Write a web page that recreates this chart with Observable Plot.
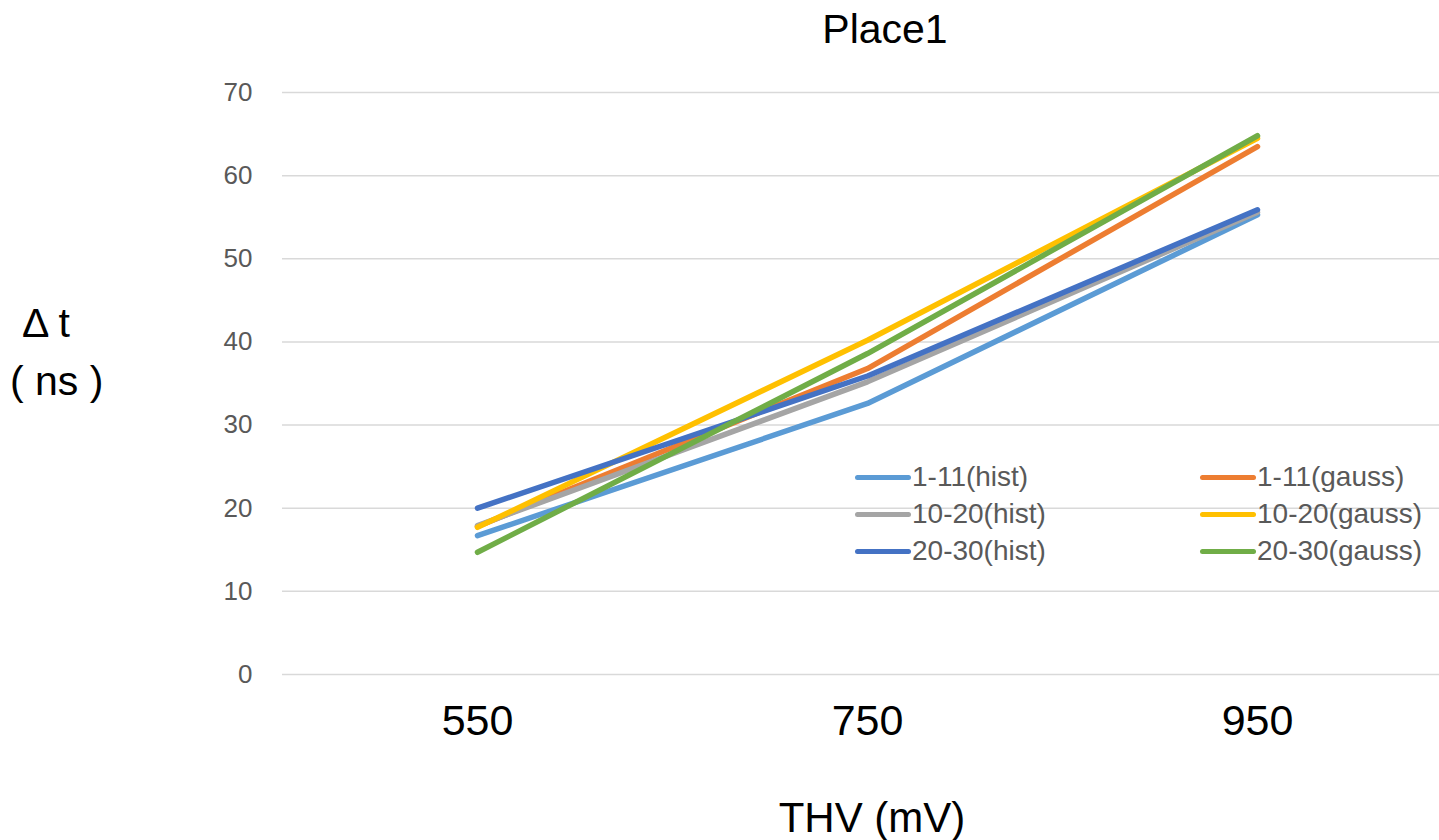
<!DOCTYPE html>
<html>
<head>
<meta charset="utf-8">
<script src="https://cdn.jsdelivr.net/npm/d3@7"></script>
<script src="https://cdn.jsdelivr.net/npm/@observablehq/plot@0.6"></script>
<style>
  html, body { margin: 0; padding: 0; background: #fff; }
  #wrap { position: relative; width: 1439px; height: 840px; overflow: hidden; font-family: "Liberation Sans", Arial, sans-serif; }
  .lbl { position: absolute; color: #000; white-space: nowrap; }
  #legend { position: absolute; left: 855px; top: 459px; width: 580px; display: grid; grid-template-columns: 345px 235px; row-gap: 1px; }
  .item { display: flex; align-items: center; font-size: 28px; color: #595959; height: 36px; }
  .sw { width: 56px; height: 5px; border-radius: 3px; margin-right: 1px; }
</style>
</head>
<body>
<div id="wrap">
  <div id="chart"></div>
  <div class="lbl" style="left:0;width:1770px;top:6px;text-align:center;font-size:41px;">Place1</div>
  <div class="lbl" style="left:22px;top:300px;font-size:41px;">Δ t</div>
  <div class="lbl" style="left:10px;top:358px;font-size:41px;">( ns )</div>
  <div class="lbl" style="left:0;width:1744px;top:794px;text-align:center;font-size:42px;">THV (mV)</div>
  <div id="legend"></div>
</div>
<script>
const categories = ["550", "750", "950"];
const seriesNames = ["1-11(hist)", "1-11(gauss)", "10-20(hist)", "10-20(gauss)", "20-30(hist)", "20-30(gauss)"];
const seriesColors = ["#5B9BD5", "#ED7D31", "#A5A5A5", "#FFC000", "#4472C4", "#70AD47"];
const hist_1_11   = [16.7, 32.6, 55.3];
const gauss_1_11  = [17.8, 36.8, 63.5];
const hist_10_20  = [17.9, 35.2, 55.6];
const gauss_10_20 = [17.7, 40.2, 64.5];
const hist_20_30  = [20.0, 35.9, 55.9];
const gauss_20_30 = [14.7, 38.6, 64.8];
const yTicks = [0, 10, 20, 30, 40, 50, 60, 70];

const seriesValues = [hist_1_11, gauss_1_11, hist_10_20, gauss_10_20, hist_20_30, gauss_20_30];
const data = [];
seriesNames.forEach((s, i) => categories.forEach((c, j) => data.push({series: s, thv: c, dt: seriesValues[i][j]})));

const plot = Plot.plot({
  width: 1439,
  height: 840,
  marginLeft: 282,
  marginRight: 0,
  marginTop: 92,
  marginBottom: 166,
  style: { fontFamily: "Liberation Sans, Arial, sans-serif", background: "#fff", overflow: "visible" },
  x: { type: "point", domain: categories, range: [477, 1257], padding: 0, label: null },
  y: { domain: [0, 70], ticks: yTicks, label: null },
  color: { domain: seriesNames, range: seriesColors },
  marks: [
    Plot.ruleY(yTicks, { stroke: "#d9d9d9", strokeWidth: 1.5 }),
    Plot.axisY({ ticks: yTicks, tickSize: 0, tickPadding: 30, fontSize: 26, color: "#595959", label: null }),
    Plot.axisX({ tickSize: 0, tickPadding: 30, fontSize: 43, color: "#000", label: null }),
    Plot.line(data, { x: "thv", y: "dt", z: "series", stroke: "series", strokeWidth: 5.5, strokeLinecap: "round", strokeLinejoin: "round" })
  ]
});
document.getElementById("chart").appendChild(plot);

const legend = document.getElementById("legend");
seriesNames.forEach((name, i) => {
  const it = document.createElement("div");
  it.className = "item";
  const sw = document.createElement("div");
  sw.className = "sw";
  sw.style.background = seriesColors[i];
  it.appendChild(sw);
  const t = document.createElement("span");
  t.textContent = name;
  it.appendChild(t);
  legend.appendChild(it);
});
</script>
</body>
</html>
